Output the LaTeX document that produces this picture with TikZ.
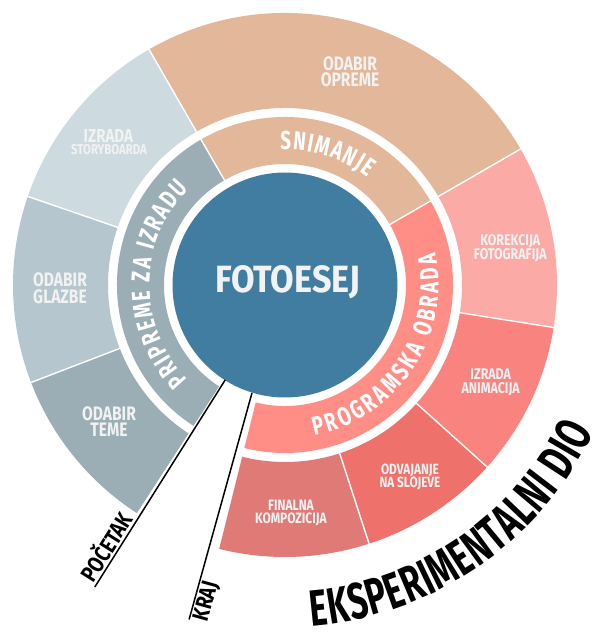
\documentclass[tikz,border=0pt]{standalone}
\usepackage{fontspec}
\usetikzlibrary{decorations.text}
\newfontfamily\condfam{Fira Sans}[FakeStretch=0.8]
\newfontfamily\ringfam{Fira Sans}[FakeStretch=0.72]
\newfontfamily\bigfam{Fira Sans}[FakeStretch=0.66]
\newfontfamily\centerfam{Fira Sans}[FakeStretch=0.9]
\newcommand\myringfont{\ringfam\bfseries\fontsize{26}{26}\selectfont}
\newcommand\mybigfont{\bigfam\bfseries\fontsize{51}{51}\selectfont}
\newcommand\ringsector[5]{\fill[#1] (#2:#4) arc[start angle=#2, end angle=#3, radius=#4] -- (#3:#5) arc[start angle=#3, end angle=#2, radius=#5] -- cycle;}
\definecolor{cBlue}{HTML}{407DA1}
\definecolor{cGreyA}{HTML}{9BADB5}
\definecolor{cGreyB}{HTML}{B5C6CE}
\definecolor{cGreyC}{HTML}{CDDAE0}
\definecolor{cPeach}{HTML}{E3B799}
\definecolor{cPinkIn}{HTML}{FF8E86}
\definecolor{cPinkA}{HTML}{FBAAA6}
\definecolor{cPinkB}{HTML}{F9837F}
\definecolor{cPinkC}{HTML}{EF716B}
\definecolor{cPinkD}{HTML}{E07A76}
\definecolor{cText}{HTML}{F2F2F2}
\begin{document}
\begin{tikzpicture}[x=1pt,y=1pt,
  lbl/.style={text=cText, align=center, inner sep=0pt},
  bigl/.style={font=\condfam\bfseries\fontsize{19.5}{16.7}\selectfont},
  smalll/.style={font=\condfam\bfseries\fontsize{15.5}{14.3}\selectfont},
  sepline/.style={white, line width=1.4pt},
  marker/.style={black, line width=1.5pt},
  tag/.style={text=black, inner sep=1.5pt, font=\condfam\bfseries\fontsize{23}{23}\selectfont}]
\useasboundingbox (0,0) rectangle (600,637);
\fill[white] (0,0) rectangle (600,637);
\begin{scope}[shift={(285pt,352pt)}]
  % outer ring
  \ringsector{cPeach}{30}{120}{177pt}{272pt}
  \ringsector{cGreyC}{120}{161}{177pt}{272pt}
  \ringsector{cGreyB}{161}{201}{177pt}{272pt}
  \ringsector{cGreyA}{201}{237}{177pt}{272pt}
  \ringsector{cPinkD}{256}{288}{177pt}{272pt}
  \ringsector{cPinkC}{288}{318}{177pt}{272pt}
  \ringsector{cPinkB}{318}{351}{177pt}{272pt}
  \ringsector{cPinkA}{351}{390}{177pt}{272pt}
  % inner ring
  \ringsector{cPeach}{30}{120}{121pt}{168pt}
  \ringsector{cGreyA}{120}{237}{121pt}{168pt}
  \ringsector{cPinkIn}{256}{390}{121pt}{168pt}
  % separators
  \foreach \a in {30,120,161,201,288,318,351}
    \draw[sepline] (\a:176pt) -- (\a:273pt);
  \foreach \a in {30,120}
    \draw[sepline] (\a:120pt) -- (\a:169pt);
  % centre
  \fill[cBlue] (0,0) circle[radius=112.5pt];
  % ring labels
  \path[decorate, decoration={text along path, text={|\myringfont|SNIMANJE}, text color=white, text align=fit to path}]
    (92:135.5pt) arc[start angle=92, end angle=52.5, radius=135.5pt];
  \path[decorate, decoration={text along path, text={|\myringfont|PRIPREME ZA IZRADU}, text color=white, text align=fit to path}]
    (224:135.5pt) arc[start angle=224, end angle=135, radius=135.5pt];
  \path[decorate, decoration={text along path, text={|\myringfont|PROGRAMSKA OBRADA}, text color=white, text align=fit to path}]
    (-79:153.5pt) arc[start angle=-79, end angle=12, radius=153.5pt];
  \path[decorate, decoration={text along path, text={|\mybigfont|EKSPERIMENTALNI DIO}, text color=black, text align=fit to path}]
    (-85.5:342pt) arc[start angle=-85.5, end angle=-25.5, radius=342pt];
  % start / end markers
  \coordinate (pocOut) at (237.8:357pt);
  \coordinate (pocIn) at (237.8:112pt);
  \coordinate (krajOut) at (254:348pt);
  \coordinate (krajIn) at (253:113pt);
  \draw[marker] (pocOut) -- (pocIn) node[tag, pos=0, sloped, anchor=south west] (poc) {POČETAK};
  \draw[marker] (krajOut) -- (krajIn) node[tag, pos=0, sloped, anchor=north west] (kraj) {KRAJ};
\end{scope}
\node[lbl, text=cText, font=\centerfam\bfseries\fontsize{38}{38}\selectfont] (foto) at (287.5,354.5) {FOTOESEJ};
\node[lbl, bigl] (oprema) at (350,565.3) {ODABIR\\OPREME};
\node[lbl, font=\condfam\bfseries\fontsize{18.8}{18}\selectfont] (izrada1) at (108.3,501.3) {IZRADA};
\node[lbl, font=\condfam\bfseries\fontsize{14.2}{14}\selectfont] (story) at (109,487) {STORYBOARDA};
\node[lbl, bigl] (glazba) at (60,348.7) {ODABIR\\GLAZBE};
\node[lbl, bigl] (tema) at (109,215.3) {ODABIR\\TEME};
\node[lbl, smalll] (korekcija) at (510.3,389) {KOREKCIJA\\FOTOGRAFIJA};
\node[lbl, smalll] (animacija) at (490.7,254.7) {IZRADA\\ANIMACIJA};
\node[lbl, font=\condfam\bfseries\fontsize{14.8}{13.2}\selectfont] (slojevi) at (410,159.8) {ODVAJANJE\\NA SLOJEVE};
\node[lbl, font=\condfam\bfseries\fontsize{15}{12.2}\selectfont] (finalna) at (291,124) {FINALNA\\KOMPOZICIJA};
\end{tikzpicture}
\end{document}
